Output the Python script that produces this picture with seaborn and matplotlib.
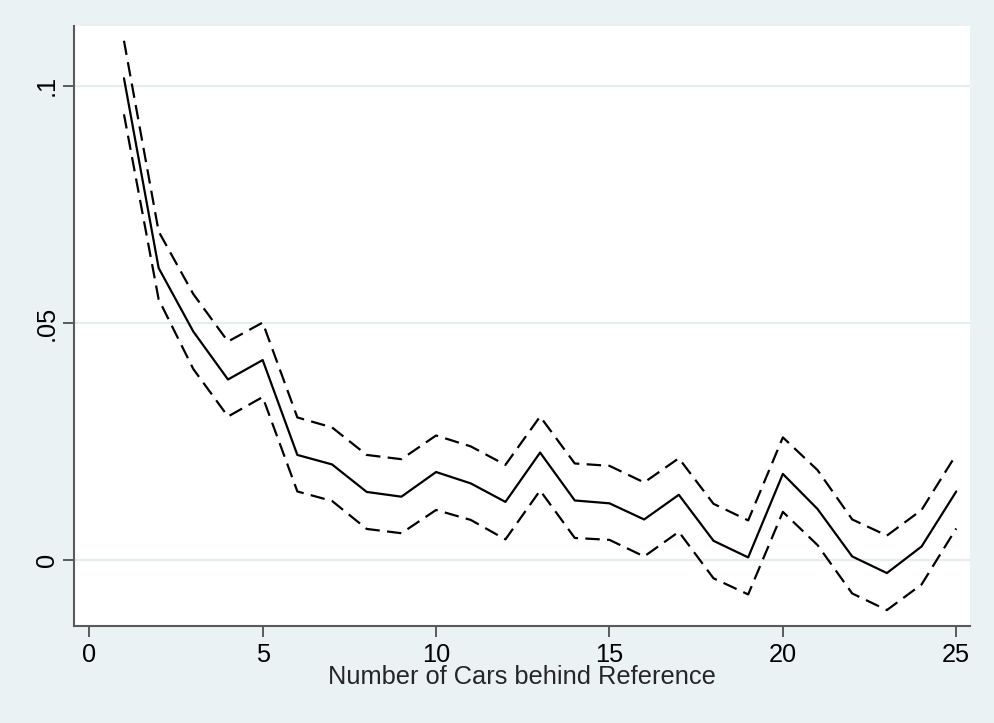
import numpy as np
import pandas as pd
import matplotlib
matplotlib.use("Agg")
import matplotlib.pyplot as plt
import seaborn as sns

cars = list(range(1, 26))
estimate = [0.1016, 0.0616, 0.0482, 0.0381, 0.0422, 0.0222, 0.0202, 0.0144, 0.0134, 0.0186,
            0.0162, 0.0123, 0.0227, 0.0126, 0.0120, 0.0086, 0.0138, 0.0041, 0.0006, 0.0182,
            0.0108, 0.0008, -0.0027, 0.0029, 0.0145]
upper = [0.1095, 0.0693, 0.0561, 0.0461, 0.0501, 0.0301, 0.0280, 0.0222, 0.0213, 0.0263,
         0.0240, 0.0201, 0.0303, 0.0204, 0.0199, 0.0164, 0.0215, 0.0119, 0.0084, 0.0259,
         0.0190, 0.0086, 0.0052, 0.0106, 0.0223]
lower = [0.0940, 0.0550, 0.0403, 0.0303, 0.0344, 0.0145, 0.0125, 0.0066, 0.0057, 0.0106,
         0.0085, 0.0044, 0.0147, 0.0047, 0.0043, 0.0008, 0.0060, -0.0038, -0.0072, 0.0102,
         0.0032, -0.0070, -0.0105, -0.0051, 0.0067]

df = pd.DataFrame({"cars": cars, "est": estimate, "hi": upper, "lo": lower})

bg = "#EAF2F3"
sns.set_style("white")
plt.rcParams["font.family"] = ["Liberation Sans", "DejaVu Sans"]

fig = plt.figure(figsize=(9.95, 7.23), dpi=100, facecolor=bg)
ax = fig.add_axes([0.0744, 0.1342, 0.9006, 0.8298])
ax.set_facecolor("white")

# light horizontal grid like Stata's s2color scheme
for y in [0, 0.05, 0.1]:
    ax.axhline(y, color="#E4EDEF", lw=1.6, zorder=0)

sns.lineplot(data=df, x="cars", y="est", ax=ax, color="black", lw=1.6)
sns.lineplot(data=df, x="cars", y="hi", ax=ax, color="black", lw=1.6)
sns.lineplot(data=df, x="cars", y="lo", ax=ax, color="black", lw=1.6)
for ln in ax.lines[-2:]:
    ln.set_dashes((6.5, 3.3))

ax.set_xlim(-0.44, 25.4)
ax.set_ylim(-0.01385, 0.1126)
ax.set_xticks([0, 5, 10, 15, 20, 25])
ax.set_yticks([0, 0.05, 0.1])
ax.set_yticklabels(["0", ".05", ".1"], rotation=90, va="center")

for s in ["top", "right"]:
    ax.spines[s].set_visible(False)
for s in ["left", "bottom"]:
    ax.spines[s].set_color("#5a5a5a")
    ax.spines[s].set_linewidth(1.5)

ax.tick_params(axis="both", direction="out", length=8, width=1.1, color="#333333",
               labelsize=18.3, labelcolor="black", pad=4, bottom=True, left=True)
ax.tick_params(axis="y", pad=3)
ax.set_xlabel("Number of Cars behind Reference", fontsize=18.3, labelpad=-1)
ax.set_ylabel("")

fig.savefig("out.png", dpi=100, facecolor=bg)
